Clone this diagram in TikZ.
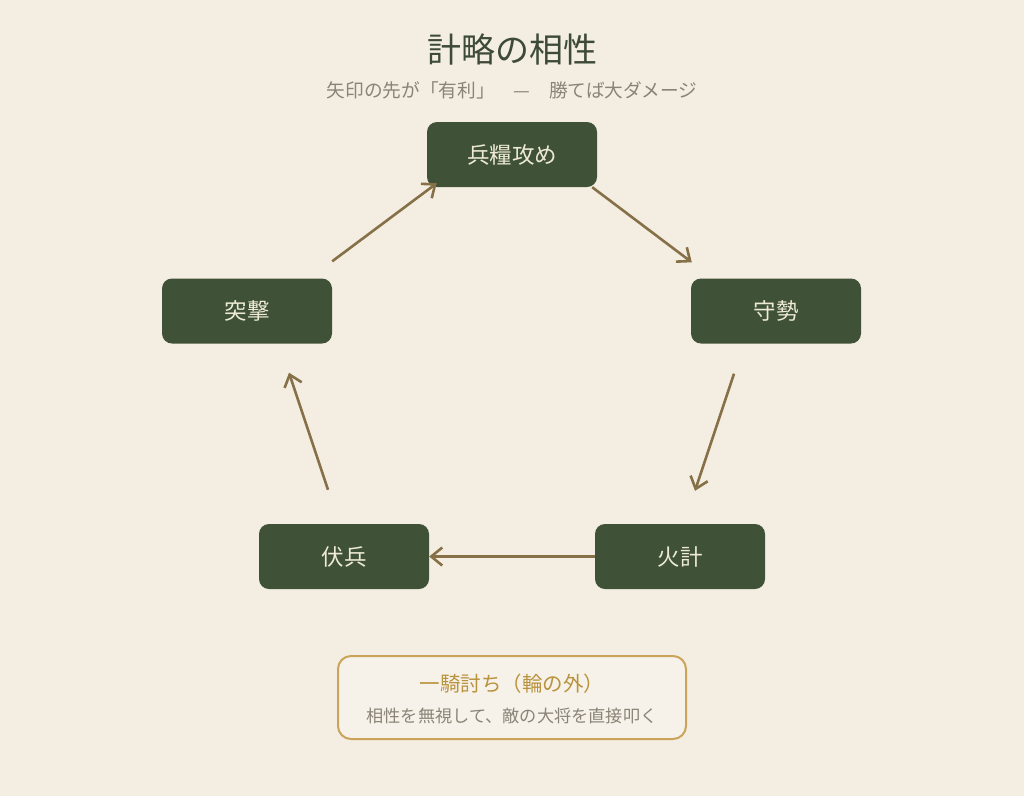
\documentclass[tikz,border=0pt]{standalone}
\usepackage{fontspec}
\newfontfamily\jp{Noto Sans CJK JP}
\usetikzlibrary{arrows.meta,calc}
\definecolor{paper}{RGB}{244,238,226}
\definecolor{moss}{RGB}{63,82,55}
\definecolor{cream}{RGB}{238,234,212}
\definecolor{bark}{RGB}{133,112,72}
\definecolor{ink}{RGB}{61,74,54}
\definecolor{ash}{RGB}{138,132,120}
\definecolor{brass}{RGB}{201,164,90}
\definecolor{ochre}{RGB}{184,146,60}
\tikzset{
  tactic/.style={rounded corners=10pt,fill=moss,text=cream,minimum width=170pt,minimum height=65pt,inner sep=0pt,font=\jp\fontsize{22.5}{26}\selectfont},
  beats/.style={line width=2.6pt,draw=bark,-{Straight Barb[length=11pt,width=18pt,line width=2.6pt]}},
  outside/.style={rounded corners=13pt,draw=brass,line width=2pt,fill=paper!75!white,minimum width=348pt,minimum height=83pt,inner sep=0pt}
}
\begin{document}
\begin{tikzpicture}[x=1pt,y=-1pt]
  \fill[paper] (0,0) rectangle (1024,796);
  \useasboundingbox (0,0) rectangle (1024,796);
  \node[text=ink,font=\jp\fontsize{34}{40}\selectfont] (title) at (512,50) {計略の相性};
  \node[text=ash,font=\jp\fontsize{18.7}{22}\selectfont] (sub) at (512,90) {矢印の先が「有利」\quad —\quad 勝てば大ダメージ};
  \node[tactic] (hyoro) at (512,154.5) {兵糧攻め};
  \node[tactic] (shusei) at (776,311) {守勢};
  \node[tactic] (kakei) at (680,556.5) {火計};
  \node[tactic] (fukuhei) at (344,556.5) {伏兵};
  \node[tactic] (totsu) at (247,311) {突撃};
  \draw[beats] ($(totsu.north east)+(0,-17)$) -- ($(hyoro.south west)+(10,-4)$);
  \draw[beats] ($(hyoro.south east)+(-5,0)$) -- ($(shusei.north west)+(1,-16)$);
  \draw[beats] ($(shusei.south)+(-42,30)$) -- ($(kakei.north)+(15,-33)$);
  \draw[beats] (kakei.west) -- (fukuhei.east);
  \draw[beats] ($(fukuhei.north)+(-16,-34)$) -- ($(totsu.south)+(42,29)$);
  \node[outside] (ikki) at (512,697.5) {};
  \node[text=ochre,font=\jp\fontsize{20.5}{24}\selectfont] (ikkititle) at (512,684) {一騎討ち（輪の外）};
  \node[text=ash,font=\jp\fontsize{17.2}{20}\selectfont] (ikkinote) at (512,716) {相性を無視して、敵の大将を直接叩く};
\end{tikzpicture}
\end{document}
